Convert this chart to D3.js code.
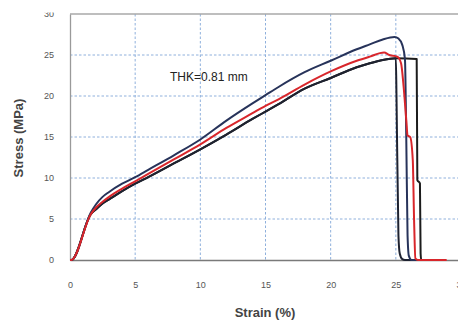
<!DOCTYPE html>
<html>
<head>
<meta charset="utf-8">
<script src="https://cdn.jsdelivr.net/npm/d3@7"></script>
<style>
  body { margin: 0; background: #fff; }
  svg { display: block; font-family: "Liberation Sans", Arial, sans-serif; }
</style>
</head>
<body>
<svg id="chart" width="458" height="322"></svg>
<script>
const xTicks = [0, 5, 10, 15, 20, 25, 30]
const yTicks = [0, 5, 10, 15, 20, 25, 30]

// [strain %, stress MPa]
const navyCurve = [
    [0, 0], [0.1, 0], [1.6, 5.8], [2, 6.8], [2.5, 7.7], [3, 8.3], [4, 9.3],
    [5, 10.1], [6, 11.0], [8, 12.8], [10, 14.7], [12, 17.0], [14, 19.1],
    [15, 20.1], [16, 21.1], [18, 22.9], [20, 24.3], [22, 25.7], [23, 26.3],
    [24, 26.9], [24.9, 27.2], [25.2, 27.0], [25.5, 26.2], [25.7, 24.5],
    [25.8, 15], [25.9, 3], [26.0, 0.5], [26.2, 0], [28.3, 0]
]

const redCurve = [
    [0, 0], [0.1, 0], [1.6, 5.6], [2, 6.4], [2.5, 7.1], [3, 7.7], [4, 8.7],
    [5, 9.6], [6, 10.5], [8, 12.3], [10, 14.1], [12, 16.1], [14, 17.9],
    [15, 18.8], [16, 19.6], [18, 21.4], [20, 23.0], [22, 24.3], [23, 24.8],
    [24.1, 25.3], [24.5, 25.0], [25.1, 24.8], [25.4, 24.0], [25.6, 21.1],
    [25.8, 17.1], [25.9, 15.2], [26.1, 15.0], [26.3, 12.2], [26.4, 4.9],
    [26.5, 0.2], [26.7, 0], [28.9, 0]
]

const blackRise = [
    [0, 0], [0.1, 0], [1.6, 5.6], [2, 6.2], [2.5, 6.9], [3, 7.4], [4, 8.4],
    [5, 9.3], [6, 10.1], [8, 11.8], [10, 13.5], [12, 15.3], [14, 17.2],
    [15, 18.1], [16, 19.0], [18, 20.9], [20, 22.2], [22, 23.5], [23, 24.0],
    [24, 24.4], [25, 24.6]
]
const blackEarlyDrop = [[25.05, 20], [25.2, 3], [25.3, 0.8], [25.5, 0.1], [25.7, 0], [28.4, 0]]
const blackLateDrop = [
    [26.6, 24.5], [26.65, 9.75], [26.85, 9.35], [26.9, 0.8], [26.95, 0], [28.5, 0]
]

const margin = { left: 70, top: 14, bottom: 260 }
const svg = d3.select("#chart")

const x = d3.scaleLinear().domain([0, 30]).range([margin.left, 461])
const y = d3.scaleLinear().domain([0, 30]).range([margin.bottom, margin.top])

// grid
const grid = svg.append("g")
    .attr("stroke", "#8fb0dc")
    .attr("stroke-width", 1)
    .attr("stroke-dasharray", "2.5,2")

grid.selectAll(".vg").data(xTicks.filter((t) => t > 0)).enter()
    .append("line")
    .attr("x1", (d) => x(d)).attr("x2", (d) => x(d))
    .attr("y1", y(30)).attr("y2", y(0))

grid.selectAll(".hg").data(yTicks.filter((t) => t > 0 && t < 30)).enter()
    .append("line")
    .attr("x1", x(0)).attr("x2", x(30))
    .attr("y1", (d) => y(d)).attr("y2", (d) => y(d))

// frame
svg.append("line")
    .attr("x1", x(0)).attr("x2", x(30)).attr("y1", y(30)).attr("y2", y(30))
    .attr("stroke", "#a8a8a8").attr("stroke-width", 1.5)

// axes
const xAxis = svg.append("g")
    .attr("transform", `translate(0,${y(0)})`)
    .call(d3.axisBottom(x).tickValues(xTicks).tickSize(0).tickPadding(22))
xAxis.select(".domain").attr("stroke", "#7a7a7a").attr("stroke-width", 1.3)
xAxis.selectAll("text").attr("fill", "#555").attr("font-size", 9)

const yAxis = svg.append("g")
    .attr("transform", `translate(${x(0)},0)`)
    .call(d3.axisLeft(y).tickValues(yTicks).tickSize(0).tickPadding(16))
yAxis.select(".domain").attr("stroke", "#9a9a9a").attr("stroke-width", 1.3)
yAxis.selectAll("text").attr("fill", "#555").attr("font-size", 9)

// curves
const line = d3.line()
    .x((d) => x(d[0]))
    .y((d) => y(d[1]))
    .curve(d3.curveMonotoneX)

const series = [
    { data: blackRise.concat(blackLateDrop), color: "#1c1c1c" },
    { data: blackRise.concat(blackEarlyDrop), color: "#1e2230" },
    { data: navyCurve, color: "#27335a" },
    { data: redCurve, color: "#d8262b" }
]

svg.append("g")
    .selectAll("path")
    .data(series)
    .enter()
    .append("path")
    .attr("d", (s) => line(s.data))
    .attr("fill", "none")
    .attr("stroke", (s) => s.color)
    .attr("stroke-width", 2)
    .attr("stroke-linejoin", "round")

// labels
svg.append("text")
    .attr("x", 170)
    .attr("y", 81)
    .attr("font-size", 12)
    .attr("fill", "#222")
    .text("THK=0.81 mm")

svg.append("text")
    .attr("x", 265)
    .attr("y", 317)
    .attr("text-anchor", "middle")
    .attr("font-size", 13)
    .attr("font-weight", "bold")
    .attr("fill", "#444")
    .text("Strain (%)")

svg.append("text")
    .attr("transform", "translate(23,138) rotate(-90)")
    .attr("text-anchor", "middle")
    .attr("font-size", 13)
    .attr("font-weight", "bold")
    .attr("fill", "#444")
    .text("Stress (MPa)")

// the original picture is cut off just above the plot
svg.append("rect")
    .attr("x", 0).attr("y", 0)
    .attr("width", 458).attr("height", 12.5)
    .attr("fill", "#fff")
</script>
</body>
</html>
